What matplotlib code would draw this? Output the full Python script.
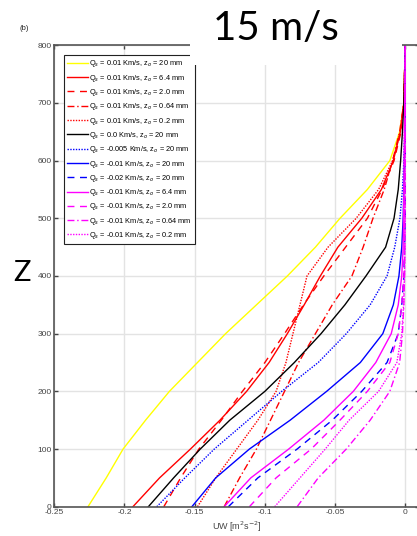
#! /usr/bin/env python3
# UW flux profiles, 15 m/s case

import numpy as np
from matplotlib import pyplot as plt
from matplotlib.patches import Rectangle

plt.rcParams['axes.unicode_minus'] = False
plt.rcParams['font.family'] = ['Liberation Sans', 'DejaVu Sans']

# ==== DATA ====

# height levels [m]
Z = [0, 50, 100, 150, 200, 250, 300, 350, 400, 450, 500, 550, 600, 650, 700, 800]

# UW [m^2 s^-2] at each height, one list per run
uw_q001_z20 = [-0.226, -0.213, -0.201, -0.185, -0.168, -0.148, -0.128, -0.106, -0.084, -0.064, -0.0465, -0.027, -0.011, -0.004, -0.001, 0]
uw_q001_z64 = [-0.194, -0.175, -0.153, -0.132, -0.113, -0.097, -0.084, -0.072, -0.0605, -0.048, -0.031, -0.017, -0.0085, -0.0035, -0.001, 0]
uw_q001_z20mm2 = [-0.172, -0.160, -0.147, -0.131, -0.116, -0.100, -0.086, -0.0725, -0.058, -0.0425, -0.027, -0.0165, -0.008, -0.003, -0.001, 0]
uw_q001_z064 = [-0.129, -0.118, -0.106, -0.096, -0.086, -0.076, -0.064, -0.052, -0.038, -0.030, -0.023, -0.015, -0.009, -0.004, -0.001, 0]
uw_q001_z02 = [-0.148, -0.135, -0.120, -0.105, -0.092, -0.085, -0.080, -0.075, -0.070, -0.055, -0.035, -0.019, -0.009, -0.0035, -0.001, 0]
uw_q0_z20 = [-0.183, -0.165, -0.146, -0.125, -0.100, -0.079, -0.060, -0.043, -0.028, -0.014, -0.008, -0.005, -0.0033, -0.002, -0.001, 0]
uw_qm0005_z20 = [-0.177, -0.157, -0.136, -0.112, -0.088, -0.062, -0.042, -0.025, -0.013, -0.0075, -0.0038, -0.002, -0.001, -0.0005, 0, 0]
uw_qm001_z20 = [-0.152, -0.135, -0.111, -0.082, -0.056, -0.032, -0.016, -0.0085, -0.0045, -0.0025, -0.0015, -0.001, -0.0006, -0.0003, 0, 0]
uw_qm002_z20 = [-0.126, -0.105, -0.077, -0.052, -0.031, -0.013, -0.005, -0.0025, -0.001, -0.0005, 0, 0, 0, 0, 0, 0]
uw_qm001_z64 = [-0.129, -0.110, -0.083, -0.058, -0.037, -0.021, -0.010, -0.005, -0.0025, -0.0015, -0.0012, -0.001, -0.0008, -0.0006, -0.0004, 0]
uw_qm001_z2 = [-0.111, -0.092, -0.067, -0.0465, -0.027, -0.011, -0.005, -0.0025, -0.001, -0.0005, -0.0004, -0.0003, -0.0002, -0.0001, 0, 0]
uw_qm001_z064 = [-0.077, -0.062, -0.042, -0.025, -0.011, -0.004, -0.002, -0.001, -0.0005, -0.0003, -0.0002, -0.0001, 0, 0, 0, 0]
uw_qm001_z02 = [-0.093, -0.075, -0.057, -0.040, -0.019, -0.006, -0.0025, -0.0012, -0.0006, -0.0003, -0.0002, -0.0001, 0, 0, 0, 0]

labels = [
    r'Q$_s$ = 0.01 Km/s, z$_o$ = 20 mm',
    r'Q$_s$ = 0.01 Km/s, z$_o$ = 6.4 mm',
    r'Q$_s$ = 0.01 Km/s, z$_o$ = 2.0 mm',
    r'Q$_s$ = 0.01 Km/s, z$_o$ = 0.64 mm',
    r'Q$_s$ = 0.01 Km/s, z$_o$ = 0.2 mm',
    r'Q$_s$ = 0.0 Km/s, z$_o$ = 20 mm',
    r'Q$_s$ = -0.005 Km/s, z$_o$ = 20 mm',
    r'Q$_s$ = -0.01 Km/s, z$_o$ = 20 mm',
    r'Q$_s$ = -0.02 Km/s, z$_o$ = 20 mm',
    r'Q$_s$ = -0.01 Km/s, z$_o$ = 6.4 mm',
    r'Q$_s$ = -0.01 Km/s, z$_o$ = 2.0 mm',
    r'Q$_s$ = -0.01 Km/s, z$_o$ = 0.64 mm',
    r'Q$_s$ = -0.01 Km/s, z$_o$ = 0.2 mm',
]
series = [uw_q001_z20, uw_q001_z64, uw_q001_z20mm2, uw_q001_z064, uw_q001_z02,
          uw_q0_z20, uw_qm0005_z20, uw_qm001_z20, uw_qm002_z20,
          uw_qm001_z64, uw_qm001_z2, uw_qm001_z064, uw_qm001_z02]

xticks = [-0.25, -0.2, -0.15, -0.1, -0.05, 0]
xticklabels = ['-0.25', '-0.2', '-0.15', '-0.1', '-0.05', '0']
yticks = [0, 100, 200, 300, 400, 500, 600, 700, 800]

# ==== STYLE ====

DASH = (0, (5, 4))
DASHDOT = (0, (5, 2, 1, 2))
DOT = (0, (1, 1))
styles = [
    ('#ffff00', '-'),
    ('#ff0000', '-'),
    ('#ff0000', DASH),
    ('#ff0000', DASHDOT),
    ('#ff0000', DOT),
    ('#000000', '-'),
    ('#0000ff', DOT),
    ('#0000ff', '-'),
    ('#0000ff', DASH),
    ('#ff00ff', '-'),
    ('#ff00ff', DASH),
    ('#ff00ff', DASHDOT),
    ('#ff00ff', DOT),
]

# ==== PLOT ====

fig = plt.figure(figsize=(4.17, 5.36), dpi=100)
ax = fig.add_axes([54.3 / 417, 29.3 / 536, 365 / 417, 461.4 / 536])

for uw, lab, (col, ls) in zip(series, labels, styles):
    ax.plot(uw, Z, color=col, linestyle=ls, lw=1.0, label=lab)

ax.set_xlim(-0.25, 0.01)
ax.set_ylim(0, 800)
ax.set_xticks(xticks)
ax.set_xticklabels(xticklabels)
ax.set_yticks(yticks)
ax.grid(True, color='#e3e3e3', lw=1.0)
ax.set_axisbelow(True)
ax.tick_params(direction='in', length=3, width=1, colors='#444444',
               labelsize=6, top=True, right=True, pad=2)
for sp in ax.spines.values():
    sp.set_color('#555555')
    sp.set_linewidth(1.2)

ax.set_xlabel(r'UW [m$^2$s$^{-2}$]', fontsize=6.5, color='#444444', labelpad=2)

leg = ax.legend(loc='upper left', bbox_to_anchor=((64 - 54.3) / 365, (506.7 - 55) / 461.4),
                borderaxespad=0, fontsize=5.3, labelspacing=0.45, handlelength=2.8,
                handletextpad=0.15, borderpad=0.45, fancybox=False, framealpha=1,
                edgecolor='#222222')
leg.get_frame().set_linewidth(0.8)

fig.text(20 / 417, 1 - 29 / 536, '(b)', fontsize=5.5, color='#222222', va='center')

# white box behind the big title, covering the top of the axes
fig.patches.append(Rectangle((190 / 417, 1 - 65 / 536), 212 / 417, 65 / 536,
                             transform=fig.transFigure, facecolor='white',
                             edgecolor='none', zorder=5))
fig.text(276 / 417, 1 - 28 / 536, '15 m/s', fontsize=29, family='Lato',
         ha='center', va='center', zorder=6)
fig.text(22 / 417, 1 - 273 / 536, 'Z', fontsize=21, family='Lato',
         ha='center', va='center')

fig.savefig('out.png', dpi=100)
